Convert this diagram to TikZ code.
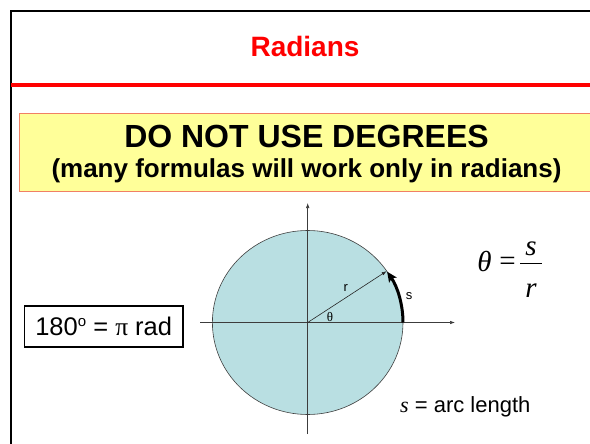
\documentclass[tikz,border=0pt]{standalone}
\usepackage{fontspec}
\setmainfont{Liberation Sans}
\newfontfamily\tms{Liberation Serif}
\usetikzlibrary{arrows.meta}
\definecolor{slidered}{RGB}{255,0,0}
\definecolor{noteyellow}{RGB}{255,255,153}
\definecolor{noteedge}{RGB}{240,128,100}
\definecolor{disc}{RGB}{185,223,226}
\definecolor{axisgray}{RGB}{60,60,60}
\begin{document}
\begin{tikzpicture}[x=1pt,y=-1pt,
  titletext/.style={text=slidered,font=\fontsize{28}{30}\selectfont\bfseries,inner sep=0pt},
  headtext/.style={font=\fontsize{32}{36}\selectfont\bfseries,inner sep=0pt,anchor=base},
  subtext/.style={font=\fontsize{26}{30}\selectfont\bfseries,inner sep=0pt,anchor=base},
  notebox/.style={draw=noteedge,fill=noteyellow,line width=0.8pt,inner sep=0pt,anchor=north west},
  eqbox/.style={draw=black,line width=1.3pt,inner sep=0pt,minimum width=158.5pt,minimum height=41pt},
  axis/.style={draw=axisgray,line width=0.6pt,-{Latex[length=5pt,width=3.5pt]}},
  radius/.style={draw=black!85,line width=0.6pt,-{Latex[length=5pt,width=3.5pt]}},
  arcarrow/.style={draw=black,line width=3pt,-{Stealth[length=10pt,width=9pt,inset=2pt]}},
  smalllbl/.style={font=\fontsize{13}{15}\selectfont,inner sep=0pt},
  formula/.style={font=\fontsize{29}{32}\selectfont\tms,inner sep=0pt}]
\useasboundingbox (0,0) rectangle (590,444);
\fill[white] (0,0) rectangle (590,444);
\clip (0,0) rectangle (590,444);
% frame and title rule
\draw[line width=2pt] (11,446) -- (11,11) -- (592,11);
\draw[slidered,line width=4pt] (11,85) -- (592,85);
\node[titletext] (ttl) at (305,46) {Radians};
% yellow note
\node[notebox,minimum width=590pt,minimum height=78pt] (note) at (19,113) {};
\node[headtext] (head) at (306.5,147.5) {DO NOT USE DEGREES};
\node[subtext] (sub) at (306.5,177.5) {(many formulas will work only in radians)};
% circle diagram
\coordinate (O) at (307.7,322.5);
\draw[fill=disc,draw=black!75,line width=0.6pt] (O) ellipse[x radius=95.3,y radius=92];
\coordinate (xl) at (200,322.5);
\coordinate (xr) at (455,322.5);
\coordinate (yb) at (307.7,434);
\coordinate (yt) at (307.7,203);
\draw[axis] (xl) -- (xr);
\draw[axis] (yb) -- (yt);
\coordinate (P) at (386.7,271.1);
\draw[radius] (O) -- (P);
\coordinate (A) at (403,322.5);
\draw[arcarrow] (A) arc[start angle=0,end angle=-33.5,x radius=95.3,y radius=92];
\node[smalllbl] (rl) at (345.7,288) {r};
\node[smalllbl] (tl) at (330,317) {\tms θ};
\node[smalllbl] (sl) at (409,296) {s};
% boxed identity
\node[eqbox] (pi) at (103.7,326.5) {};
\node[font=\fontsize{25.5}{28}\selectfont,inner sep=0pt,anchor=base] (pitext) at (103.7,335) {180\raisebox{0.6ex}{\fontsize{15}{16}\selectfont o} = {\tms π} rad};
% formula theta = s/r
\node[formula] (th) at (484.5,262) {\itshape θ};
\node[formula] (eq) at (507.5,263.5) {=};
\coordinate (bl) at (520,263.5);
\coordinate (br) at (542,263.5);
\draw[line width=1pt] (bl) -- (br);
\node[formula] (sn) at (531,249) {\itshape s};
\node[formula] (rn) at (531,290.5) {\itshape r};
% caption
\node[font=\fontsize{22}{24}\selectfont,inner sep=0pt,anchor=base west] (cap) at (400,412) {{\tms\itshape s} = arc length};
\end{tikzpicture}
\end{document}
